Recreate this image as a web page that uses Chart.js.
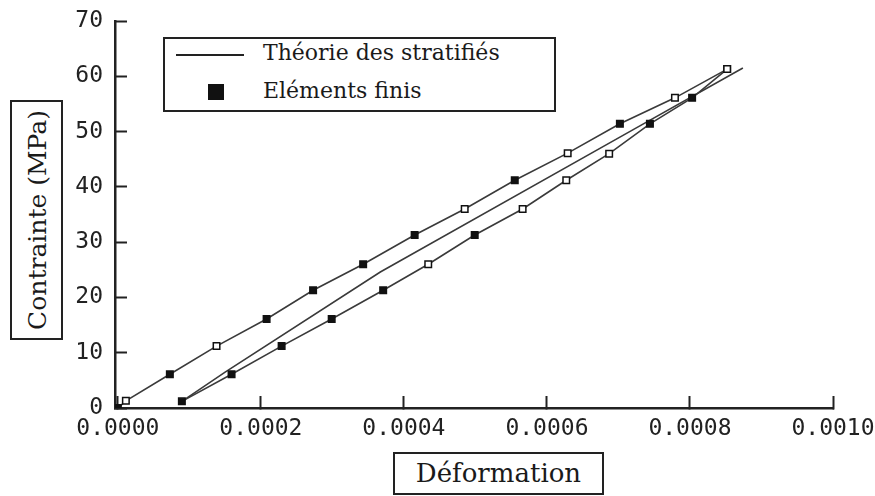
<!doctype html>
<html lang="fr">
  <head>
    <meta charset="utf-8">
    <title>Contrainte - Déformation</title>
    <style>
      * {
        margin: 0;
        padding: 0;
        box-sizing: border-box;
      }
      body {
        width: 875px;
        height: 496px;
        background: #fff;
        overflow: hidden;
        position: relative;
      }
      .box {
        position: absolute;
        border: 2px solid #222;
        background: #fff;
        color: #1a1a1a;
        font-family: "DejaVu Serif", serif;
      }
      .ytitle {
        left: 10px;
        top: 100px;
        width: 53px;
        height: 240px;
      }
      .ytitle span {
        position: absolute;
        left: 50%;
        top: 50%;
        transform: translate(-50%, -50%) rotate(-90deg);
        white-space: nowrap;
        font-size: 25px;
      }
      .xtitle {
        left: 393px;
        top: 452px;
        width: 211px;
        height: 43px;
        font-size: 26px;
        line-height: 39px;
        text-align: center;
      }
      .legend {
        left: 163px;
        top: 37px;
        width: 393px;
        height: 75px;
        font-size: 22px;
      }
      .legend .row {
        position: absolute;
        left: 98px;
        white-space: nowrap;
      }
      .legend .sample-line {
        position: absolute;
        left: 11px;
        top: 15px;
        width: 68px;
        height: 2px;
        background: #222;
      }
      .legend .sample-square {
        position: absolute;
        left: 43px;
        top: 45px;
        width: 16px;
        height: 16px;
        background: #111;
      }
    </style>
  </head>
  <body>
    <canvas id="myChart" width="875" height="496"></canvas>

    <div class="box ytitle"><span>Contrainte (MPa)</span></div>
    <div class="box xtitle">Déformation</div>
    <div class="box legend">
      <div class="sample-line"></div>
      <div class="row" style="top:1px">Théorie des stratifiés</div>
      <div class="sample-square"></div>
      <div class="row" style="top:39px">Eléments finis</div>
    </div>

    <script src="https://cdn.jsdelivr.net/npm/chart.js/dist/chart.umd.min.js"></script>
    <script>
    // loading branch (upper curve)
    const strainLoad = [0, 0.0000112, 0.0000727, 0.000138, 0.000208, 0.000273, 0.000343,
                        0.000415, 0.000485, 0.000555, 0.000629, 0.000702, 0.000779, 0.000852];
    const stressLoad = [0, 1.3, 6.1, 11.2, 16.1, 21.3, 26.0, 31.3, 36.0, 41.2, 46.1, 51.4, 56.1, 61.3];

    // unloading branch (lower curve)
    const strainUnload = [0.0000895, 0.000159, 0.000229, 0.000299, 0.000371, 0.000434, 0.000499,
                          0.000566, 0.000627, 0.000687, 0.000744, 0.000803, 0.000852];
    const stressUnload = [1.2, 6.1, 11.2, 16.1, 21.3, 26.0, 31.3, 36.0, 41.2, 46.0, 51.4, 56.1, 61.3];

    // middle curve, no markers
    const strainMid = [0.0000895, 0.00015, 0.000367, 0.00072, 0.000874];
    const stressMid = [1.2, 6.5, 24.6, 50.3, 61.5];

    const xTicks = [0, 0.0002, 0.0004, 0.0006, 0.0008, 0.0010];
    const yTicks = [0, 10, 20, 30, 40, 50, 60, 70];

    // which markers look hollow in the scan (indexes)
    const hollowLoad = [1, 3, 8, 10, 12, 13];
    const hollowUnload = [5, 7, 8, 9, 12];

    const toPoints = (xs, ys) => xs.map((x, i) => ({ x: x, y: ys[i] }));
    const fills = (n, hollow) => Array.from({ length: n }, (_, i) => hollow.includes(i) ? '#fff' : '#111');

    const lineStyle = {
      showLine: true,
      borderColor: '#3a3a3a',
      borderWidth: 1.6,
      pointStyle: 'rect',
      pointRadius: 4.6,
      pointBorderColor: '#111',
      pointBorderWidth: 1.5,
      tension: 0
    };

    const data = {
      datasets: [
        Object.assign({
          label: 'Chargement',
          data: toPoints(strainLoad, stressLoad),
          pointBackgroundColor: fills(strainLoad.length, hollowLoad)
        }, lineStyle),
        Object.assign({
          label: 'Déchargement',
          data: toPoints(strainUnload, stressUnload),
          pointBackgroundColor: fills(strainUnload.length, hollowUnload)
        }, lineStyle),
        Object.assign({}, lineStyle, {
          label: 'Théorie',
          data: toPoints(strainMid, stressMid),
          pointRadius: 0
        })
      ]
    };

    const tickFont = { family: '"DejaVu Sans Mono", monospace', size: 23 };

    const config = {
      type: 'scatter',
      data,
      options: {
        responsive: false,
        animation: false,
        layout: { padding: { top: 21, right: 42, left: 0, bottom: 0 } },
        plugins: {
          legend: { display: false },
          tooltip: { enabled: false }
        },
        scales: {
          x: {
            type: 'linear',
            min: -0.000004,
            max: 0.001,
            afterBuildTicks: (scale) => { scale.ticks = xTicks.map(v => ({ value: v })); },
            afterFit: (scale) => {
              scale.height = 88;
              scale.paddingLeft = 0;
              scale.paddingRight = 0;
            },
            ticks: {
              color: '#222',
              font: tickFont,
              padding: 19,
              maxRotation: 0,
              autoSkip: false,
              callback: (v) => v.toFixed(4)
            },
            grid: {
              drawOnChartArea: false,
              tickLength: -12,
              tickWidth: 2,
              tickColor: '#222'
            },
            border: { display: true, color: '#222', width: 2.5 }
          },
          y: {
            min: 0,
            max: 70,
            afterBuildTicks: (scale) => { scale.ticks = yTicks.map(v => ({ value: v })); },
            afterFit: (scale) => {
              scale.width = 115;
              scale.paddingTop = 0;
              scale.paddingBottom = 0;
            },
            ticks: {
              color: '#222',
              font: tickFont,
              padding: 24
            },
            grid: {
              drawOnChartArea: false,
              tickLength: -12,
              tickWidth: 2,
              tickColor: '#222'
            },
            border: { display: true, color: '#222', width: 2.5 }
          }
        }
      }
    };

    const myChart = new Chart(document.getElementById('myChart'), config);
    </script>
  </body>
</html>
